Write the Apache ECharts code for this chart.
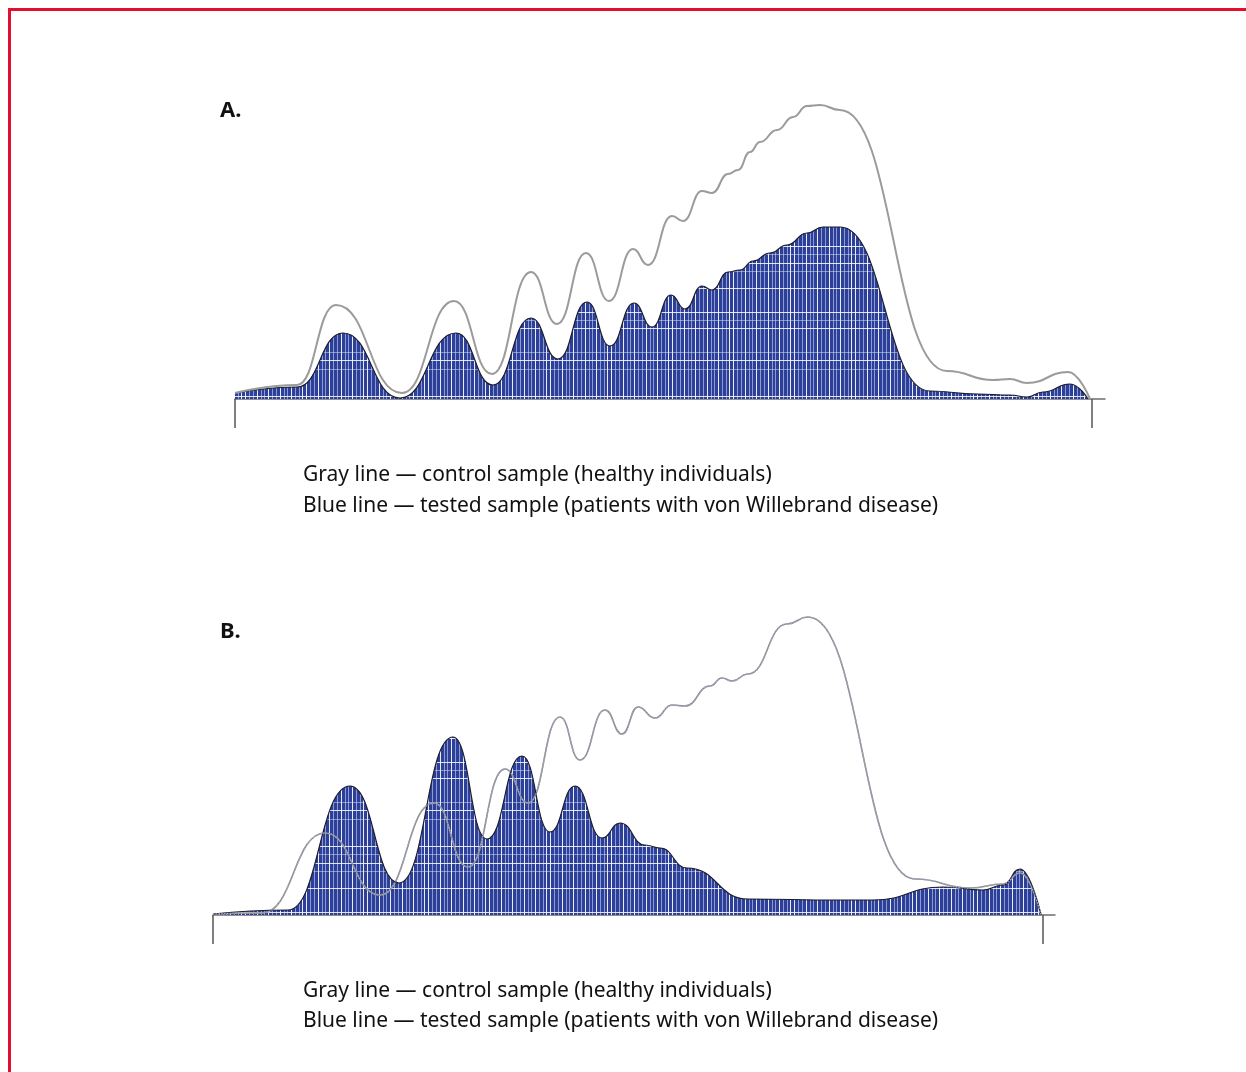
<!DOCTYPE html>
<html>
<head>
<meta charset="utf-8">
<title>Multimer analysis</title>
<script src="https://cdn.jsdelivr.net/npm/echarts@6/dist/echarts.min.js"></script>
<style>
  html, body { margin: 0; padding: 0; background: #fff; }
  #chart { width: 1246px; height: 1072px; }
</style>
</head>
<body>
<div id="chart"></div>
<script>
// Densitometry traces: [migration distance, density]
// (mostly peaks, valleys and shoulders of each trace)
const controlA = [
  [0, 6], [62, 14], [101, 94], [167, 6], [219, 98], [257, 25], [296, 127],
  [322, 75], [351, 146], [374, 98], [398, 150], [413, 134], [437, 183], [448, 178],
  [467, 208], [477, 206], [493, 225], [503, 229], [515, 247], [525, 257], [542, 269],
  [558, 282], [572, 293], [585, 294], [605, 289], [712, 28], [758, 19],
  [775, 20], [792, 16], [833, 27], [855, 0]
];
const testedA = [
  [0, 6], [62, 12], [108, 66], [165, 1], [221, 66], [258, 14], [296, 81], [323, 40],
  [352, 97], [375, 53], [399, 96], [417, 72], [436, 104], [450, 90], [467, 113],
  [477, 109], [493, 127], [505, 129], [518, 138], [535, 146], [552, 154], [572, 166],
  [588, 172], [605, 172], [695, 8], [742, 5], [775, 4], [792, 2], [808, 7], [835, 15],
  [853, 0]
];
const controlB = [
  [0, 1], [49, 2], [112, 82], [167, 20], [221, 112], [255, 48], [292, 146],
  [315, 112], [347, 198], [367, 155], [392, 205], [409, 181], [425, 208], [442, 197],
  [459, 210], [472, 209], [497, 229], [509, 237], [519, 234], [535, 241], [574, 291],
  [595, 298], [702, 36], [757, 27], [790, 31], [807, 42], [828, 0]
];
const testedB = [
  [0, 1], [75, 5], [137, 129], [186, 32], [240, 178], [274, 76], [309, 159],
  [337, 83], [362, 129], [389, 77], [407, 92], [432, 70], [447, 67], [474, 47],
  [535, 16], [624, 15], [660, 15], [730, 28], [770, 25], [790, 30], [807, 46], [828, 0]
];
const laneEndA = 857;
const laneEndB = 830;
const legendLines = [
  'Gray line \u2014 control sample (healthy individuals)',
  'Blue line \u2014 tested sample (patients with von Willebrand disease)'
];

// white scan grid over the blue fill
function makeHatch() {
  const c = document.createElement('canvas');
  c.width = 61; c.height = 150;
  const ctx = c.getContext('2d');
  ctx.fillStyle = '#2c409a';
  ctx.fillRect(0, 0, c.width, c.height);
  const vx = [1, 5, 9, 13, 17, 20, 24, 28, 32, 36, 40, 43, 47, 51, 55, 58];
  vx.forEach((x, i) => {
    ctx.fillStyle = i % 3 === 0 ? 'rgba(255,255,255,0.9)' : 'rgba(220,228,255,0.55)';
    ctx.fillRect(x, 0, 1, c.height);
  });
  const hy = [12, 20, 28, 52, 60, 69, 96, 104, 113, 121, 138];
  hy.forEach((y, i) => {
    ctx.fillStyle = i % 2 === 0 ? 'rgba(255,255,255,0.85)' : 'rgba(220,228,255,0.5)';
    ctx.fillRect(0, y, c.width, 1);
  });
  return c;
}
const hatch = makeHatch();

const chart = echarts.init(document.getElementById('chart'));

const xAxisBase = (max, laneEnd) => ({
  type: 'value', min: 0, max: max,
  axisLine: { show: true, lineStyle: { color: '#6e6e6e', width: 1.5 } },
  axisTick: { show: true, customValues: [0, laneEnd], length: 29, lineStyle: { color: '#555', width: 1.5 } },
  axisLabel: { show: false },
  splitLine: { show: false }
});
const yAxisBase = (gi) => ({ type: 'value', gridIndex: gi, min: 0, max: 300, show: false });

const textFont = '21px "Noto Sans", "Liberation Sans", sans-serif';
const headFont = 'bold 22px "Noto Sans", "Liberation Sans", sans-serif';

const trace = (name, gi, data, lineStyle, fill) => ({
  name, type: 'line', xAxisIndex: gi, yAxisIndex: gi, data,
  smooth: 0.5, smoothMonotone: 'x', showSymbol: false, lineStyle,
  areaStyle: fill ? { color: { image: hatch, repeat: 'repeat' }, opacity: 1 } : undefined
});

chart.setOption({
  animation: false,
  grid: [
    { left: 235, top: 99, width: 870, height: 300 },
    { left: 213, top: 615, width: 842, height: 300 }
  ],
  xAxis: [
    Object.assign(xAxisBase(870, laneEndA), { gridIndex: 0 }),
    Object.assign(xAxisBase(842, laneEndB), { gridIndex: 1 })
  ],
  yAxis: [yAxisBase(0), yAxisBase(1)],
  series: [
    trace('Tested A', 0, testedA, { color: '#1c1c2a', width: 1.2 }, true),
    trace('Control A', 0, controlA, { color: '#9b9b9b', width: 2 }, false),
    trace('Control B', 1, controlB, { color: '#8c8c8c', width: 1.6 }, false),
    trace('Tested B', 1, testedB, { color: '#1c1c2a', width: 1.2 }, true),
    // control trace seen through the blue fill
    trace('Control B under', 1, controlB, { color: '#a3a9c2', width: 1.4, type: 'dotted' }, false)
  ],
  graphic: [
    { type: 'polyline', shape: { points: [[9.5, 1072], [9.5, 9.5], [1246, 9.5]] },
      style: { stroke: '#e30f2d', lineWidth: 3, fill: null } },
    { type: 'text', x: 220, y: 111, style: { text: 'A.', font: headFont, fill: '#111', verticalAlign: 'middle' } },
    { type: 'text', x: 220, y: 632, style: { text: 'B.', font: headFont, fill: '#111', verticalAlign: 'middle' } },
    { type: 'text', x: 303, y: 475, style: { text: legendLines[0], font: textFont, fill: '#111', verticalAlign: 'middle' } },
    { type: 'text', x: 303, y: 506, style: { text: legendLines[1], font: textFont, fill: '#111', verticalAlign: 'middle' } },
    { type: 'text', x: 303, y: 991, style: { text: legendLines[0], font: textFont, fill: '#111', verticalAlign: 'middle' } },
    { type: 'text', x: 303, y: 1021, style: { text: legendLines[1], font: textFont, fill: '#111', verticalAlign: 'middle' } }
  ]
});
window.addEventListener('resize', chart.resize);
</script>
</body>
</html>
